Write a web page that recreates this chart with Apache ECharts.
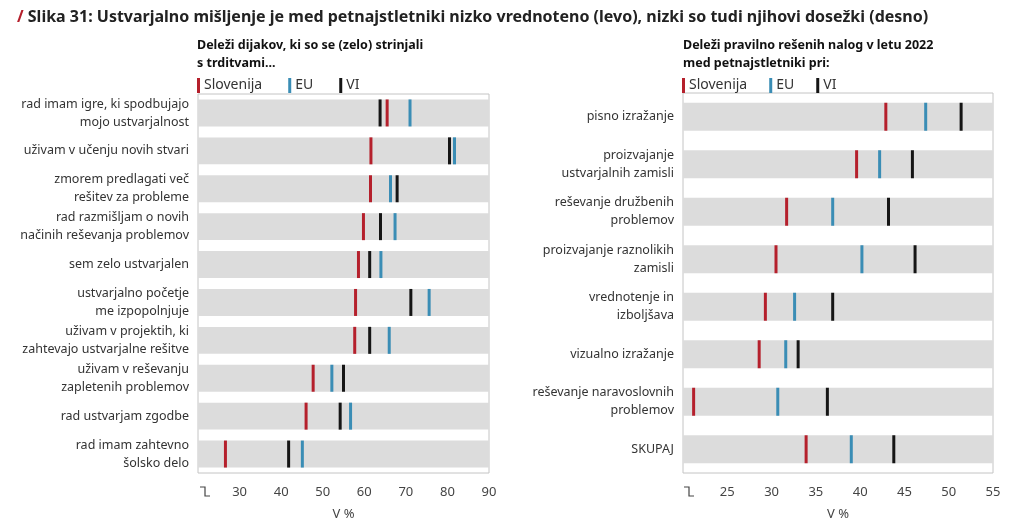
<!DOCTYPE html>
<html lang="sl">
<head>
<meta charset="UTF-8">
<title>Slika 31</title>
<script src="https://cdn.jsdelivr.net/npm/echarts@6/dist/echarts.min.js"></script>
<style>
html, body { margin: 0; padding: 0; background: #fff; }
#main { width: 1024px; height: 529px; }
</style>
</head>
<body>
<div id="main"></div>
<script>
// levo: deleži dijakov, ki so se (zelo) strinjali s trditvami
var leftCats = [
    'rad imam igre, ki spodbujajo\nmojo ustvarjalnost',
    'uživam v učenju novih stvari',
    'zmorem predlagati več\nrešitev za probleme',
    'rad razmišljam o novih\nnačinih reševanja problemov',
    'sem zelo ustvarjalen',
    'ustvarjalno početje\nme izpopolnjuje',
    'uživam v projektih, ki\nzahtevajo ustvarjalne rešitve',
    'uživam v reševanju\nzapletenih problemov',
    'rad ustvarjam zgodbe',
    'rad imam zahtevno\nšolsko delo'
];
var leftSlo = [65.5, 61.6, 61.5, 59.8, 58.6, 57.9, 57.7, 47.7, 46.0, 26.6];
var leftEU  = [71.0, 81.7, 66.3, 67.4, 64.0, 75.6, 66.0, 52.2, 56.7, 45.1];
var leftVI  = [63.8, 80.5, 67.9, 63.9, 61.3, 71.2, 61.3, 55.0, 54.2, 41.8];
var leftMin = 20, leftMax = 90, leftStep = 10;

// desno: deleži pravilno rešenih nalog v letu 2022
var rightCats = [
    'pisno izražanje',
    'proizvajanje\nustvarjalnih zamisli',
    'reševanje družbenih\nproblemov',
    'proizvajanje raznolikih\nzamisli',
    'vrednotenje in\nizboljšava',
    'vizualno izražanje',
    'reševanje naravoslovnih\nproblemov',
    'SKUPAJ'
];
var rightSlo = [42.9, 39.6, 31.7, 30.5, 29.3, 28.6, 21.2, 33.9];
var rightEU  = [47.4, 42.2, 36.9, 40.2, 32.6, 31.6, 30.7, 39.0];
var rightVI  = [51.4, 45.9, 43.2, 46.2, 36.9, 33.0, 36.3, 43.8];
var rightMin = 20, rightMax = 55, rightStep = 5;

var names = ['Slovenija', 'EU', 'VI'];
var colors = ['#b5202c', '#3a8db5', '#151515'];
var FONT = 'Noto Sans';

function pairs(arr) {
    return arr.map(function (v, i) { return [v, i]; });
}
function fill(arr, v) {
    return arr.map(function () { return v; });
}

function xAxisOf(idx, min, max, step) {
    return {
        type: 'value', gridIndex: idx, min: min, max: max, interval: step,
        axisLine: { show: false }, axisTick: { show: false }, splitLine: { show: false },
        axisLabel: {
            fontFamily: FONT, fontSize: 13, color: '#444', margin: 13,
            formatter: function (v) { return v === min ? '' : v; }
        },
        name: 'V %', nameLocation: 'middle', nameGap: 35,
        nameTextStyle: { fontFamily: FONT, fontSize: 13, color: '#444' }
    };
}
function yAxisOf(idx, cats) {
    return {
        type: 'category', gridIndex: idx, data: cats, inverse: true,
        axisLine: { show: false }, axisTick: { show: false },
        axisLabel: { fontFamily: FONT, fontSize: 12.5, color: '#333', lineHeight: 18, margin: 9 }
    };
}
function bandSeries(idx, cats, max, width) {
    return {
        type: 'bar', xAxisIndex: idx, yAxisIndex: idx, silent: true,
        barWidth: width, itemStyle: { color: '#dcdcdc' },
        data: fill(cats, max), z: 1
    };
}
function markSeries(idx, name, color, vals, h) {
    return {
        type: 'scatter', name: name, xAxisIndex: idx, yAxisIndex: idx,
        symbol: 'rect', symbolSize: [3, h], itemStyle: { color: color, opacity: 1 },
        data: pairs(vals), z: 5
    };
}
function breakMark(x, y) {
    return {
        type: 'polyline',
        shape: { points: [[x, y], [x + 5, y], [x + 5, y + 9], [x + 10, y + 9]] },
        style: { stroke: '#444', lineWidth: 1.2, fill: null }
    };
}

var myChart = echarts.init(document.getElementById('main'));
var option = {
    backgroundColor: '#fff',
    animation: false,
    title: [
        {
            text: '{s|/} Slika 31: Ustvarjalno mišljenje je med petnajstletniki nizko vrednoteno (levo), nizki so tudi njihovi dosežki (desno)',
            left: 12, top: 4,
            textStyle: {
                fontFamily: FONT, fontSize: 16, fontWeight: 'bold', color: '#222',
                rich: { s: { fontFamily: FONT, fontSize: 16, fontWeight: 'bold', color: '#b5202c' } }
            }
        },
        {
            text: 'Deleži dijakov, ki so se (zelo) strinjali\ns trditvami...',
            left: 192, top: 31,
            textStyle: { fontFamily: FONT, fontSize: 12.5, fontWeight: 'bold', color: '#111', lineHeight: 18 }
        },
        {
            text: 'Deleži pravilno rešenih nalog v letu 2022\nmed petnajstletniki pri:',
            left: 678, top: 31,
            textStyle: { fontFamily: FONT, fontSize: 12.5, fontWeight: 'bold', color: '#111', lineHeight: 18 }
        }
    ],
    legend: [
        {
            left: 192, top: 73, icon: 'rect', itemWidth: 3, itemHeight: 15, itemGap: 26,
            data: names, selectedMode: false,
            textStyle: { fontFamily: FONT, fontSize: 14, color: '#333', padding: [0, 0, 0, -1] }
        },
        {
            left: 677, top: 73, icon: 'rect', itemWidth: 3, itemHeight: 15, itemGap: 22,
            data: names, selectedMode: false,
            textStyle: { fontFamily: FONT, fontSize: 14, color: '#333', padding: [0, 0, 0, -1] }
        }
    ],
    grid: [
        { left: 198, right: 535, top: 94, bottom: 56, show: true, borderColor: '#c4c4c4', borderWidth: 1 },
        { left: 683, right: 31, top: 93, bottom: 56, show: true, borderColor: '#c4c4c4', borderWidth: 1 }
    ],
    xAxis: [
        xAxisOf(0, leftMin, leftMax, leftStep),
        xAxisOf(1, rightMin, rightMax, rightStep)
    ],
    yAxis: [yAxisOf(0, leftCats), yAxisOf(1, rightCats)],
    series: [
        bandSeries(0, leftCats, leftMax, '71%'),
        markSeries(0, names[0], colors[0], leftSlo, 27),
        markSeries(0, names[1], colors[1], leftEU, 27),
        markSeries(0, names[2], colors[2], leftVI, 27),
        bandSeries(1, rightCats, rightMax, '59%'),
        markSeries(1, names[0], colors[0], rightSlo, 28),
        markSeries(1, names[1], colors[1], rightEU, 28),
        markSeries(1, names[2], colors[2], rightVI, 28)
    ],
    graphic: [breakMark(200, 487), breakMark(684, 487)]
};
myChart.setOption(option);
</script>
</body>
</html>
